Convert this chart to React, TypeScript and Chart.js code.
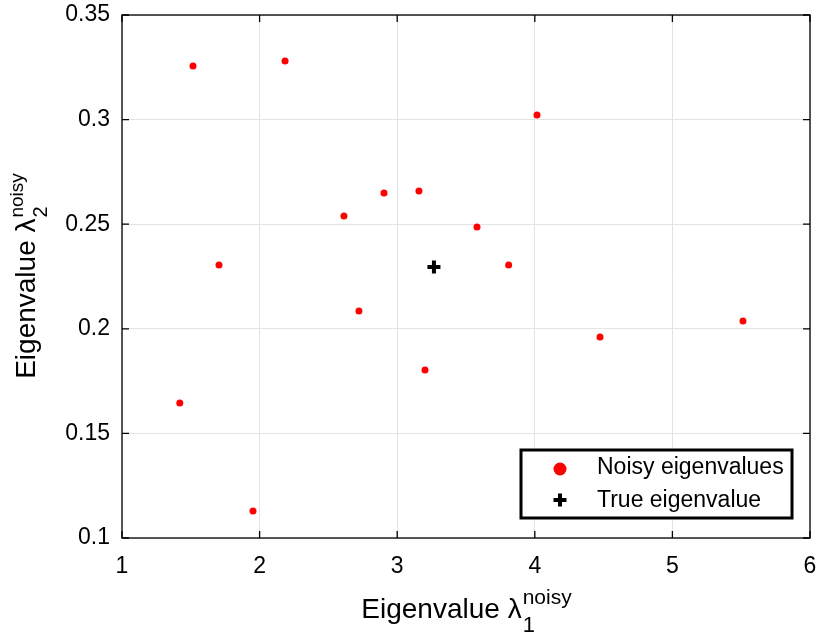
import React, { useEffect, useRef } from "react";
import { Chart, registerables } from "chart.js";

Chart.register(...registerables);

const noisyX = [1.516, 2.185, 4.016, 2.613, 2.904, 3.158, 3.58, 1.705, 3.81, 2.722, 4.474, 5.513, 3.202, 1.42, 1.952];
const noisyY = [0.3256, 0.328, 0.3022, 0.2539, 0.2649, 0.2659, 0.2487, 0.2305, 0.2305, 0.2085, 0.1961, 0.2037, 0.1803, 0.1645, 0.1129];
const trueX = [3.267];
const trueY = [0.2295];
const seriesNames = ["Noisy eigenvalues", "True eigenvalue"];
const xTicks = [1, 2, 3, 4, 5, 6];
const yTicks = [0.1, 0.15, 0.2, 0.25, 0.3, 0.35];

const FONT = "'Liberation Sans', Arial, Helvetica, sans-serif";

const framePlugin = {
  id: "frame",
  afterDraw(chart: any) {
    const ctx = chart.ctx as CanvasRenderingContext2D;
    const { left, right, top, bottom } = chart.chartArea;
    const xs = chart.scales.x;
    const ys = chart.scales.y;
    ctx.save();
    ctx.strokeStyle = "#000";
    ctx.lineWidth = 1.3;
    ctx.strokeRect(left, top, right - left, bottom - top);
    const tl = 7;
    ctx.beginPath();
    xTicks.forEach((v) => {
      const px = xs.getPixelForValue(v);
      ctx.moveTo(px, bottom);
      ctx.lineTo(px, bottom - tl);
      ctx.moveTo(px, top);
      ctx.lineTo(px, top + tl);
    });
    yTicks.forEach((v) => {
      const py = ys.getPixelForValue(v);
      ctx.moveTo(left, py);
      ctx.lineTo(left + tl, py);
      ctx.moveTo(right, py);
      ctx.lineTo(right - tl, py);
    });
    ctx.stroke();

    // x title
    ctx.fillStyle = "#000";
    ctx.textBaseline = "alphabetic";
    ctx.textAlign = "left";
    const mainFont = `28px ${FONT}`;
    const supFont = `21px ${FONT}`;
    const subFont = `22px ${FONT}`;
    const main = "Eigenvalue \u03bb";
    ctx.font = mainFont;
    const wMain = ctx.measureText(main).width;
    ctx.font = supFont;
    const wSup = ctx.measureText("noisy").width;
    ctx.font = subFont;
    const wSub = ctx.measureText("1").width;
    const total = wMain + Math.max(wSup, wSub);
    const cx = (left + right) / 2;
    const x0 = cx - total / 2;
    const by = 618;
    ctx.font = mainFont;
    ctx.fillText(main, x0, by);
    ctx.font = subFont;
    ctx.fillText("1", x0 + wMain + 1, by + 14);
    ctx.font = supFont;
    ctx.fillText("noisy", x0 + wMain + 1, by - 14);

    // y title
    ctx.save();
    ctx.translate(35, (top + bottom) / 2);
    ctx.rotate(-Math.PI / 2);
    const supFontY = `19px ${FONT}`;
    const subFontY = `20px ${FONT}`;
    ctx.font = mainFont;
    const wMainY = ctx.measureText(main).width;
    ctx.font = supFontY;
    const wSupY = ctx.measureText("noisy").width;
    const totalY = wMainY + wSupY;
    const y0 = -totalY / 2;
    ctx.font = mainFont;
    ctx.fillText(main, y0, 0);
    ctx.font = subFontY;
    ctx.fillText("2", y0 + wMainY + 1, 12);
    ctx.font = supFontY;
    ctx.fillText("noisy", y0 + wMainY + 1, -12);
    ctx.restore();

    // legend
    const lx = 521, ly = 450, lw = 271, lh = 68;
    ctx.fillStyle = "#fff";
    ctx.fillRect(lx, ly, lw, lh);
    ctx.strokeStyle = "#000";
    ctx.lineWidth = 3;
    ctx.strokeRect(lx, ly, lw, lh);
    ctx.fillStyle = "#ff0000";
    ctx.beginPath();
    ctx.arc(560, 469, 6.5, 0, Math.PI * 2);
    ctx.fill();
    ctx.strokeStyle = "#000";
    ctx.lineWidth = 4;
    ctx.beginPath();
    ctx.moveTo(553.5, 500);
    ctx.lineTo(566.5, 500);
    ctx.moveTo(560, 493.5);
    ctx.lineTo(560, 506.5);
    ctx.stroke();
    ctx.fillStyle = "#000";
    ctx.font = `23px ${FONT}`;
    ctx.textBaseline = "middle";
    ctx.fillText(seriesNames[0], 597, 468);
    ctx.fillText(seriesNames[1], 597, 501);
    ctx.restore();
  },
};

export default function App() {
  const ref = useRef<HTMLCanvasElement>(null);
  useEffect(() => {
    if (!ref.current) return;
    const chart = new Chart(ref.current, {
      type: "scatter",
      data: {
        datasets: [
          {
            label: seriesNames[0],
            data: noisyX.map((x, i) => ({ x, y: noisyY[i] })),
            backgroundColor: "#ff0000",
            borderColor: "#ff0000",
            pointRadius: 3.5,
            pointBorderWidth: 0,
          },
          {
            label: seriesNames[1],
            data: trueX.map((x, i) => ({ x, y: trueY[i] })),
            pointStyle: "cross",
            borderColor: "#000",
            backgroundColor: "#000",
            pointRadius: 6.5,
            pointBorderWidth: 4,
          },
        ],
      },
      options: {
        responsive: false,
        animation: false,
        layout: { autoPadding: false, padding: { left: 0, right: 8, top: 15, bottom: 0 } },
        plugins: { legend: { display: false }, tooltip: { enabled: false } },
        scales: {
          x: {
            type: "linear",
            min: 1,
            max: 6,
            afterBuildTicks: (s: any) => {
              s.ticks = xTicks.map((v) => ({ value: v }));
            },
            afterFit: (s: any) => {
              s.height = 97;
              s.paddingLeft = 0;
              s.paddingRight = 0;
              s.paddingTop = 0;
              s.paddingBottom = 0;
            },
            grid: { color: "#e3e3e3", lineWidth: 1, drawTicks: false },
            border: { display: false },
            ticks: {
              color: "#000",
              font: { family: FONT, size: 23 },
              padding: 15,
              maxRotation: 0,
              callback: (v: any) => String(v),
            },
          },
          y: {
            type: "linear",
            min: 0.1,
            max: 0.35,
            afterBuildTicks: (s: any) => {
              s.ticks = yTicks.map((v) => ({ value: v }));
            },
            afterFit: (s: any) => {
              s.width = 122;
              s.paddingLeft = 0;
              s.paddingRight = 0;
              s.paddingTop = 0;
              s.paddingBottom = 0;
            },
            grid: { color: "#e3e3e3", lineWidth: 1, drawTicks: false },
            border: { display: false },
            ticks: {
              color: "#000",
              font: { family: FONT, size: 23 },
              padding: 12,
              callback: (v: any) => String(Math.round(v * 100) / 100),
            },
          },
        },
      },
      plugins: [framePlugin],
    });
    return () => chart.destroy();
  }, []);
  return (
    <div style={{ position: "absolute", left: 0, top: 0, width: 818, height: 635 }}>
      <canvas ref={ref} width={818} height={635} />
    </div>
  );
}
